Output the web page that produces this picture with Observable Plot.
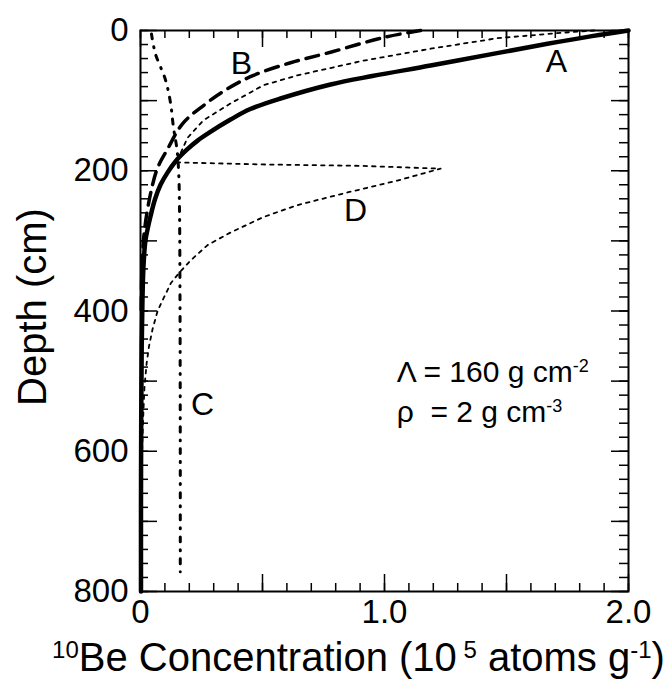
<!DOCTYPE html>
<html>
<head>
<meta charset="utf-8">
<script src="https://cdn.jsdelivr.net/npm/d3@7"></script>
<script src="https://cdn.jsdelivr.net/npm/@observablehq/plot@0.6"></script>
<style>
  html, body { margin: 0; padding: 0; background: #fff; }
  #chart { width: 669px; height: 690px; }
</style>
</head>
<body>
<div id="chart"></div>
<script>
// ---- data (concentration in 10^5 atoms/g, depth in cm) ----
const curveA = [[2.0,0],[1.85,8],[1.668,19],[1.45,33],[1.189,50],[0.95,65],[0.779,77],[0.574,97],[0.45,112],[0.369,127],[0.28,146],[0.234,157],[0.19,170],[0.145,186],[0.11,203],[0.082,220],[0.06,240],[0.041,265],[0.028,285],[0.02,300],[0.012,338],[0.008,385],[0.005,450],[0.003,550],[0.002,680],[0.002,800]];
const curveB = [[1.148,0],[0.996,10],[0.779,31],[0.615,46],[0.463,64],[0.357,83],[0.258,107],[0.172,133],[0.111,169],[0.070,196],[0.041,233],[0.016,286],[0.006,340],[0.003,400]];
const curveC = [[0.045,5],[0.061,33],[0.102,70],[0.123,103],[0.135,138],[0.150,171],[0.157,207],[0.160,260],[0.162,400],[0.163,600],[0.163,772]];
const curveD = [[1.86,0],[1.734,3],[1.463,11],[1.189,26],[0.914,43],[0.643,64],[0.504,78],[0.369,104],[0.258,128],[0.193,153],[0.164,175],[0.14,188],[0.5,191],[0.9,193],[1.230,197],[1.053,214],[0.848,231],[0.643,249],[0.504,266],[0.369,288],[0.275,306],[0.205,328],[0.16,345],[0.125,360],[0.097,380],[0.07,400],[0.05,425],[0.035,450],[0.025,475],[0.016,510],[0.01,560],[0.005,620],[0.002,700]];

const curveLabels = ["A", "B", "C", "D"];
const curveLabelConc = [1.705, 0.414, 0.254, 0.881];
const curveLabelDepth = [45, 47, 533, 257];

const annotations = ["\u039B = 160 g cm^{-2}", "\u03C1  = 2 g cm^{-3}"];

const xTickValues = [0, 1, 2];
const xTickLabels = ["0", "1.0", "2.0"];
const yTickValues = [0, 200, 400, 600, 800];
const xMinor = d3.range(0, 2.0001, 0.1).map(v => +v.toFixed(1));
const xMajor = [0, 0.5, 1, 1.5, 2];
const yMinor = d3.range(0, 801, 20);
const yMajor = d3.range(0, 801, 100);

const xTitle = "^{10}Be Concentration (10^{ 5} atoms g^{-1})";
const yTitle = "Depth (cm)";

// ---- layout ----
const W = 669, H = 690, mL = 140, mR = 41, mT = 30, mB = 99;
const iW = W - mL - mR, iH = H - mT - mB;
const minorLen = 8, majorLen = 17;
const font = "'Liberation Sans', Arial, Helvetica, sans-serif";

const chart = Plot.plot({
  width: W, height: H,
  marginLeft: mL, marginRight: mR, marginTop: mT, marginBottom: mB,
  style: { fontFamily: font, color: "#000", background: "#fff" },
  x: { domain: [0, 2] },
  y: { domain: [0, 800], reverse: true },
  marks: [
    // inward ticks on all four sides
    Plot.tickX(xMinor, { x: d => d, insetTop: iH - minorLen, stroke: "#000", strokeWidth: 1.5 }),
    Plot.tickX(xMajor, { x: d => d, insetTop: iH - majorLen, stroke: "#000", strokeWidth: 1.5 }),
    Plot.tickX(xMinor, { x: d => d, insetBottom: iH - minorLen, stroke: "#000", strokeWidth: 1.5 }),
    Plot.tickX(xMajor, { x: d => d, insetBottom: iH - majorLen, stroke: "#000", strokeWidth: 1.5 }),
    Plot.tickY(yMinor, { y: d => d, insetRight: iW - minorLen, stroke: "#000", strokeWidth: 1.5 }),
    Plot.tickY(yMajor, { y: d => d, insetRight: iW - majorLen, stroke: "#000", strokeWidth: 1.5 }),
    Plot.tickY(yMinor, { y: d => d, insetLeft: iW - minorLen - 1, stroke: "#000", strokeWidth: 1.5 }),
    Plot.tickY(yMajor, { y: d => d, insetLeft: iW - majorLen, stroke: "#000", strokeWidth: 1.5 }),
    Plot.frame({ stroke: "#000", strokeWidth: 2 }),
    Plot.axisX({ ticks: xTickValues, tickFormat: d => xTickLabels[xTickValues.indexOf(d)], tickSize: 0, tickPadding: 8, fontSize: 33, label: null }),
    Plot.axisY({ ticks: yTickValues, tickFormat: d => String(d), tickSize: 0, tickPadding: 12, fontSize: 33, label: null }),
    // curves
    Plot.line(curveD, { x: d => d[0], y: d => d[1], stroke: "#000", strokeWidth: 1.8, strokeDasharray: "3.5,5", curve: "linear" }),
    Plot.line(curveC, { x: d => d[0], y: d => d[1], stroke: "#000", strokeWidth: 3, strokeDasharray: "5,8,1,8", curve: "catmull-rom" }),
    Plot.line(curveB, { x: d => d[0], y: d => d[1], stroke: "#000", strokeWidth: 3.5, strokeDasharray: "13,8", curve: "catmull-rom" }),
    Plot.line(curveA, { x: d => d[0], y: d => d[1], stroke: "#000", strokeWidth: 4.5, strokeLinecap: "round", curve: "catmull-rom" }),
    // curve labels
    Plot.text(curveLabels, { x: (d, i) => curveLabelConc[i], y: (d, i) => curveLabelDepth[i], text: d => d, fontSize: 32, fill: "#000" }),
    // parameter annotations
    Plot.text(annotations, { x: 1.05, y: (d, i) => [488, 545][i], text: d => d, textAnchor: "start", lineAnchor: "middle", fontSize: 30, fill: "#000" }),
    // axis titles
    Plot.text([yTitle], { frameAnchor: "left", text: d => d, rotate: -90, textAnchor: "middle", lineAnchor: "middle", dx: -107, dy: -4, fontSize: 40, fill: "#000" }),
    Plot.text([xTitle], { frameAnchor: "bottom", text: d => d, textAnchor: "middle", lineAnchor: "middle", dx: -26, dy: 67, fontSize: 40, fill: "#000" })
  ]
});

// turn ^{...} markers into real superscript tspans
d3.select(chart).selectAll("text").each(function () {
  const s = this.textContent;
  if (!s.includes("^{")) return;
  const parts = s.split(/(\^\{[^}]*\})/);
  this.textContent = "";
  for (const p of parts) {
    if (!p) continue;
    const m = p.match(/^\^\{(.*)\}$/);
    const t = d3.select(this).append("tspan");
    if (m) t.attr("baseline-shift", "super").attr("font-size", "0.6em").text(m[1]);
    else t.text(p);
  }
});

document.getElementById("chart").appendChild(chart);
</script>
</body>
</html>
